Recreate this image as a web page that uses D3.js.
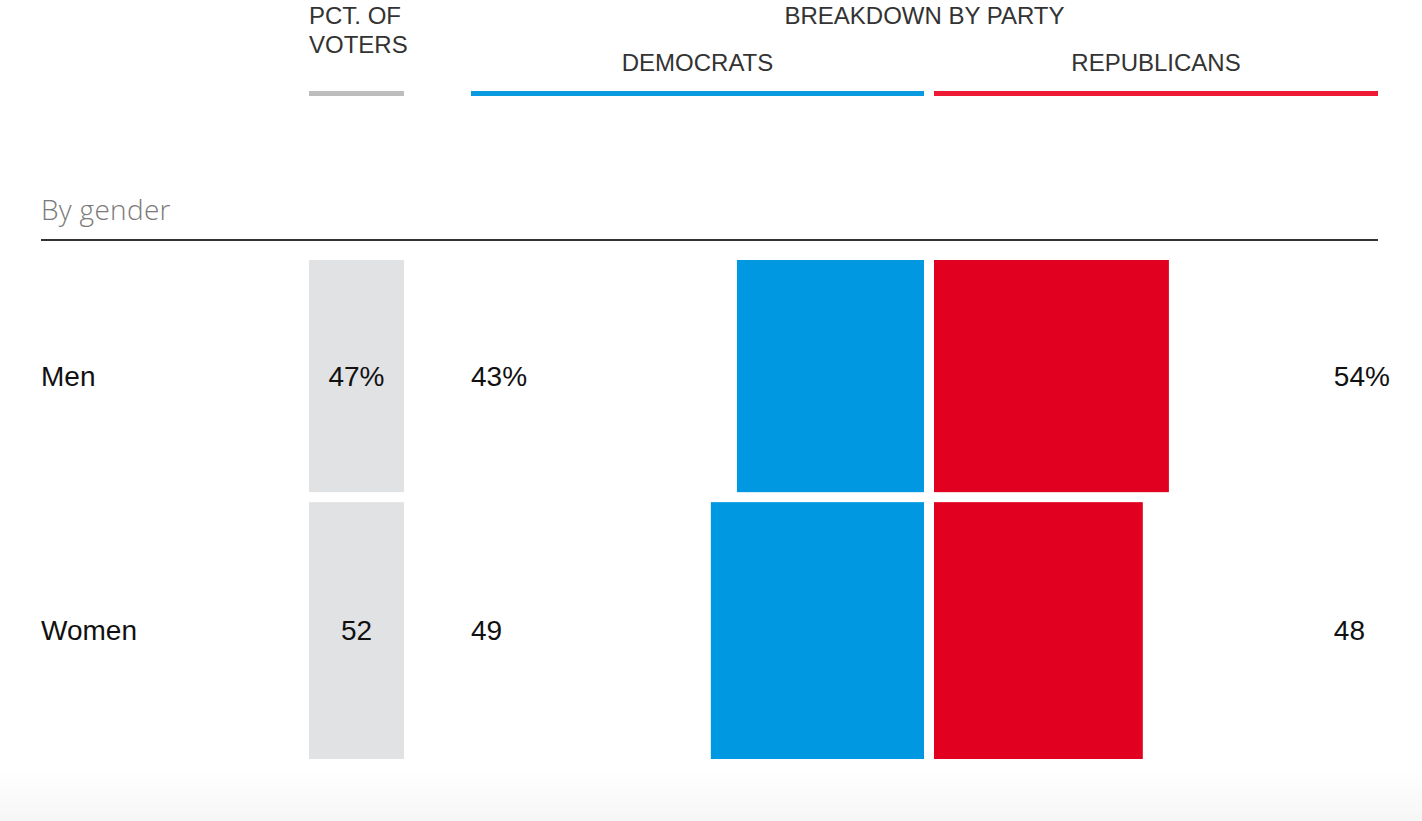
<!DOCTYPE html>
<html>
<head>
<meta charset="utf-8">
<script src="https://cdn.jsdelivr.net/npm/d3@7"></script>
<style>
  html, body { margin: 0; padding: 0; background: #fff; }
  svg { display: block; }
  text { font-family: "Liberation Sans", Arial, Helvetica, sans-serif; }
</style>
</head>
<body>
<svg id="chart" width="1422" height="821"></svg>
<script>
// ---- data ----
const sectionTitle = "By gender";
const categories = ["Men", "Women"];
const voterPct = [47, 52];
const demPct = [43, 49];
const repPct = [54, 48];
const showPercent = [true, false];
const headerVoters = ["PCT. OF", "VOTERS"];
const headerBreakdown = "BREAKDOWN BY PARTY";
const partyLabels = ["DEMOCRATS", "REPUBLICANS"];

// ---- layout ----
const W = 1422, H = 821;
const svg = d3.select("#chart");
const blue = "#0098e1", red = "#e1001f", gray = "#e1e2e4";
const headerBlue = "#0a9ae0", headerRed = "#ee1a33";

const leftX = 41, rightX = 1378;
const grayX0 = 309, grayX1 = 404;
const demX0 = 471, demX1 = 924;
const repX0 = 934, repX1 = 1378;

// bottom gradient
const defs = svg.append("defs");
const grad = defs.append("linearGradient").attr("id", "bg").attr("x1", 0).attr("y1", 0).attr("x2", 0).attr("y2", 1);
grad.append("stop").attr("offset", "0%").attr("stop-color", "#ffffff");
grad.append("stop").attr("offset", "100%").attr("stop-color", "#f6f6f6");
svg.append("rect").attr("x", 0).attr("y", 770).attr("width", W).attr("height", H - 770).attr("fill", "url(#bg)");

// headers
const hdr = svg.append("g").attr("fill", "#333").style("font-size", "24px");
hdr.selectAll("text.hv").data(headerVoters).join("text")
  .attr("class", "hv").attr("x", grayX0).attr("y", (d, i) => 24 + i * 29).text(d => d);
hdr.append("text").attr("x", (demX0 + repX1) / 2).attr("y", 24).attr("text-anchor", "middle").text(headerBreakdown);
hdr.selectAll("text.pl").data(partyLabels).join("text")
  .attr("class", "pl")
  .attr("x", (d, i) => i === 0 ? (demX0 + demX1) / 2 : (repX0 + repX1) / 2)
  .attr("y", 71).attr("text-anchor", "middle").text(d => d);

svg.append("rect").attr("x", grayX0).attr("y", 91).attr("width", grayX1 - grayX0).attr("height", 5).attr("fill", "#bdbdbd");
svg.append("rect").attr("x", demX0).attr("y", 91).attr("width", demX1 - demX0).attr("height", 5).attr("fill", headerBlue);
svg.append("rect").attr("x", repX0).attr("y", 91).attr("width", repX1 - repX0).attr("height", 5).attr("fill", headerRed);

// section title
svg.append("text").attr("x", leftX).attr("y", 220).attr("fill", "#7a7a7a")
  .style("font-size", "28px").style("font-family", "'Open Sans', 'Liberation Sans', sans-serif").style("font-weight", 300)
  .style("letter-spacing", "0.3px")
  .text(sectionTitle);
svg.append("line").attr("x1", leftX).attr("x2", rightX).attr("y1", 240).attr("y2", 240)
  .attr("stroke", "#333").attr("stroke-width", 2);

// scales
const gap = 10;
const rowsTop = 260, rowsBottom = 759;
const totalVoters = d3.sum(voterPct);
const hScale = d3.scaleLinear().domain([0, totalVoters]).range([0, rowsBottom - rowsTop - gap * (categories.length - 1)]);
const xScale = d3.scaleLinear().domain([0, 100]).range([0, 435]);

const rows = categories.map((c, i) => ({
  cat: c, v: voterPct[i], d: demPct[i], r: repPct[i], pct: showPercent[i]
}));
let yCur = rowsTop;
rows.forEach(r => { r.y = yCur; r.h = hScale(r.v); yCur += r.h + gap; });

const g = svg.selectAll("g.row").data(rows).join("g").attr("class", "row");

g.append("rect").attr("x", grayX0).attr("y", d => d.y).attr("width", grayX1 - grayX0).attr("height", d => d.h).attr("fill", gray);
g.append("rect").attr("x", d => demX1 - xScale(d.d)).attr("y", d => d.y).attr("width", d => xScale(d.d)).attr("height", d => d.h).attr("fill", blue);
g.append("rect").attr("x", repX0).attr("y", d => d.y).attr("width", d => xScale(d.r)).attr("height", d => d.h).attr("fill", red);

const fs = "28px";
const cy = d => d.y + d.h / 2 + 9.5;
g.append("text").attr("x", leftX).attr("y", cy).style("font-size", fs).attr("fill", "#111").text(d => d.cat);
g.append("text").attr("x", (grayX0 + grayX1) / 2).attr("y", cy).attr("text-anchor", "middle").style("font-size", fs).attr("fill", "#111")
  .text(d => d.v + (d.pct ? "%" : ""));
g.append("text").attr("x", demX0).attr("y", cy).style("font-size", fs).attr("fill", "#111")
  .text(d => d.d + (d.pct ? "%" : ""));
g.append("text").attr("x", 1365).attr("y", cy).attr("text-anchor", "end").style("font-size", fs).attr("fill", "#111")
  .text(d => d.r);
g.filter(d => d.pct).append("text").attr("x", 1365).attr("y", cy).style("font-size", fs).attr("fill", "#111").text("%");
</script>
</body>
</html>
